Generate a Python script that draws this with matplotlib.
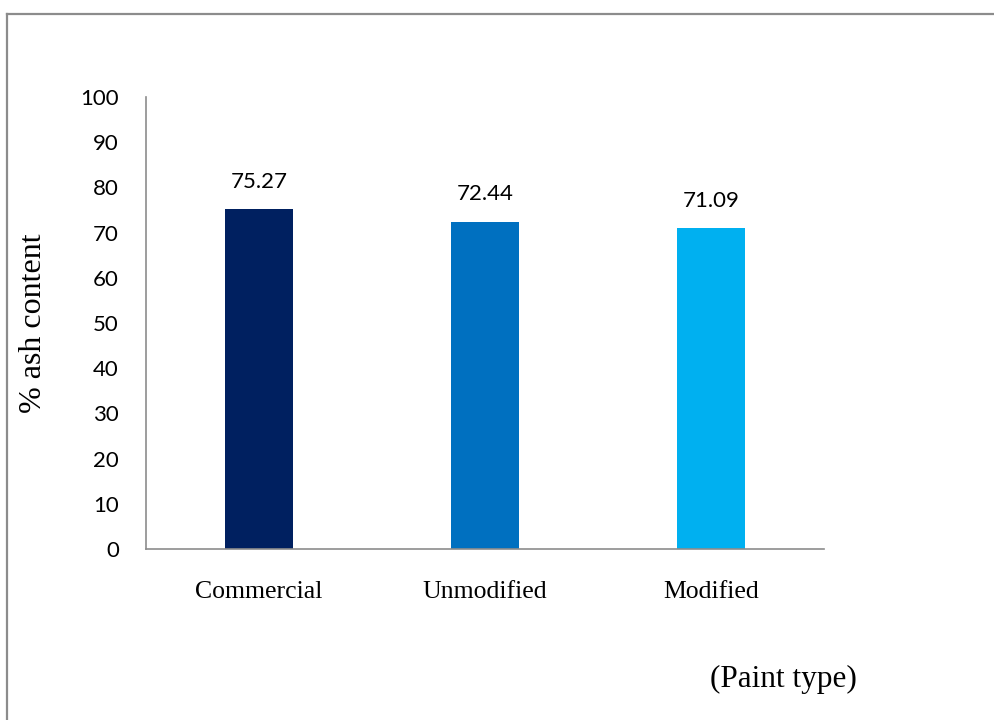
import matplotlib
matplotlib.use('Agg')
import matplotlib.pyplot as plt
from matplotlib.lines import Line2D

# ash content of the three paint types
categories = ['Commercial', 'Unmodified', 'Modified']
ash_pct = [75.27, 72.44, 71.09]
bar_colors = ['#002060', '#0070C0', '#00B0F0']
y_ticks = list(range(0, 101, 10))

SERIF = 'Liberation Serif'
SANS = 'Lato'
GRAY = '#8c8c8c'

fig = plt.figure(figsize=(9.95, 7.2), dpi=100)
ax = fig.add_axes([146 / 995, 1 - 549 / 720, 678 / 995, 452 / 720])

x = range(len(categories))
bars = ax.bar(x, ash_pct, width=0.305, color=bar_colors, zorder=2)

for b, v in zip(bars, ash_pct):
    ax.annotate(f'{v:.2f}', (b.get_x() + b.get_width() / 2, v),
                xytext=(0, 19.5), textcoords='offset points',
                ha='center', va='center', fontsize=16, family=SANS)

ax.set_xlim(-0.5, len(categories) - 0.5)
ax.set_ylim(0, 100)
ax.set_yticks(y_ticks)
ax.set_yticklabels([str(t) for t in y_ticks], family=SANS, fontsize=16)
ax.set_xticks(list(x))
ax.set_xticklabels(categories, family=SERIF, fontsize=18.5)
ax.tick_params(axis='y', length=0, pad=19.5)
ax.tick_params(axis='x', length=0, pad=23)

for side in ('top', 'right'):
    ax.spines[side].set_visible(False)
for side in ('left', 'bottom'):
    ax.spines[side].set_color(GRAY)
    ax.spines[side].set_linewidth(1.2)

fig.text(34 / 995, 1 - 323 / 720, '% ash content', rotation=90,
         ha='center', va='center', fontsize=23, family=SERIF)
fig.text(783 / 995, 1 - 687 / 720, '(Paint type)',
         ha='center', va='baseline', fontsize=22.5, family=SERIF)

# outer frame, only top and left edges fall inside the canvas
fig.add_artist(Line2D([7 / 995, 1.0], [1 - 13.5 / 720, 1 - 13.5 / 720],
                      transform=fig.transFigure, color=GRAY, lw=1.6))
fig.add_artist(Line2D([7 / 995, 7 / 995], [0.0, 1 - 13.5 / 720],
                      transform=fig.transFigure, color=GRAY, lw=1.6))

fig.savefig('out.png', dpi=100)
